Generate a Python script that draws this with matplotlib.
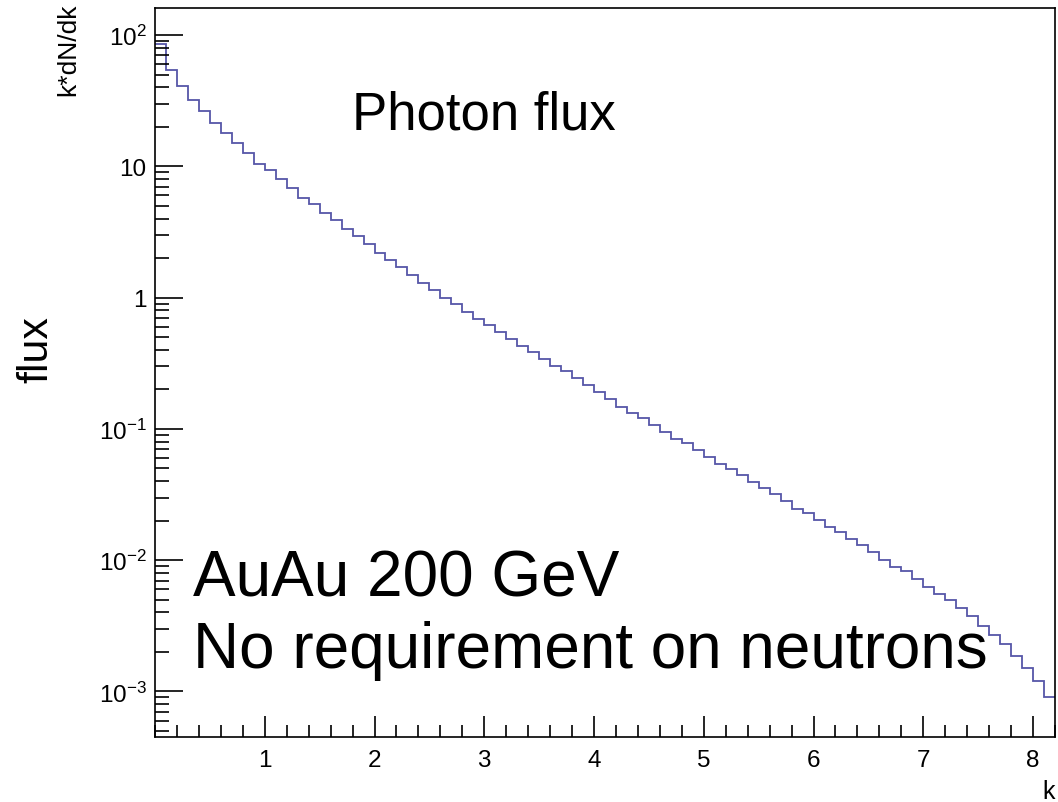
import matplotlib

matplotlib.use("Agg")

import matplotlib.pyplot as plt
import numpy as np
from matplotlib.ticker import FixedLocator, FuncFormatter, LogLocator, MultipleLocator

plt.rcParams["font.family"] = ["Liberation Sans", "DejaVu Sans"]
plt.rcParams["mathtext.fontset"] = "custom"
plt.rcParams["mathtext.rm"] = "Liberation Sans"
plt.rcParams["mathtext.it"] = "Liberation Sans:italic"

# Histogram: 82 bins of width 0.1 in k, photon flux k*dN/dk
BIN_EDGES = np.linspace(0.0, 8.2, 83)
FLUX = [
    85.4, 54.1, 40.6, 31.96, 26.35, 21.2, 18.0, 15.0, 12.54, 10.39,
    9.40, 7.99, 6.78, 5.72, 5.12, 4.38, 3.89, 3.32, 2.92, 2.55,
    2.18, 1.93, 1.71, 1.49, 1.30, 1.14, 1.00, 0.890, 0.778, 0.693,
    0.619, 0.548, 0.488, 0.428, 0.382, 0.339, 0.302, 0.276, 0.242, 0.215,
    0.191, 0.168, 0.148, 0.1315, 0.1204, 0.1065, 0.0947, 0.0843, 0.0777, 0.0687,
    0.0607, 0.0542, 0.0498, 0.0443, 0.0394, 0.0357, 0.0317, 0.0282, 0.0247, 0.0227,
    0.0202, 0.0180, 0.0164, 0.0146, 0.0131, 0.0115, 0.0101, 0.00892, 0.00826, 0.00723,
    0.00628, 0.00555, 0.00494, 0.00435, 0.00373, 0.00315, 0.00267, 0.00228, 0.00186, 0.00152,
    0.00120, 0.000911,
]

X_TICKS = [1, 2, 3, 4, 5, 6, 7, 8]
Y_LIMITS = (4.5e-4, 162)
X_LIMITS = (0.0, 8.2)

LINE_COLOR = "#5656a8"


def _ylabel(v, _pos):
    exp = int(round(np.log10(v)))
    if exp == 0:
        return "1"
    if exp == 1:
        return "10"
    return r"$\mathregular{10^{%d}}$" % exp


W, H = 1058, 803
fig = plt.figure(figsize=(W / 100, H / 100), dpi=100)
ax = fig.add_axes([155 / W, 1 - 738 / H, 900 / W, (738 - 8.5) / H])

ax.stairs(FLUX, BIN_EDGES, baseline=None, color=LINE_COLOR, linewidth=1.3)

ax.set_yscale("log")
ax.set_xlim(*X_LIMITS)
ax.set_ylim(*Y_LIMITS)

ax.xaxis.set_major_locator(FixedLocator(X_TICKS))
ax.xaxis.set_minor_locator(MultipleLocator(0.2))
ax.yaxis.set_major_locator(LogLocator(base=10, numticks=20))
ax.yaxis.set_minor_locator(LogLocator(base=10, subs=np.arange(2, 10), numticks=20))
ax.yaxis.set_major_formatter(FuncFormatter(_ylabel))
ax.yaxis.set_minor_formatter(FuncFormatter(lambda v, p: ""))

ax.tick_params(axis="both", which="both", direction="in", top=False, right=False,
               width=1.2, colors="black", labelsize=17.5)
ax.tick_params(axis="y", which="major", length=20, pad=6)
ax.tick_params(axis="y", which="minor", length=10)
ax.tick_params(axis="x", which="major", length=15, pad=9)
ax.tick_params(axis="x", which="minor", length=8.5)

for sp in ax.spines.values():
    sp.set_linewidth(1.2)
    sp.set_color("black")

# axis titles (ROOT style: placed at the ends of the axes)
fig.text(68 / W, 1 - 4 / H, "k*dN/dk", rotation=90, ha="center", va="top", fontsize=19)
fig.text(1055 / W, 1 - 799 / H, "k", ha="right", va="baseline", fontsize=18)
fig.text(36 / W, 1 - 350 / H, "flux", rotation=90, ha="center", va="center", fontsize=31)

# annotations
fig.text(352 / W, 1 - 129 / H, "Photon flux", ha="left", va="baseline", fontsize=38)
fig.text(193 / W, 1 - 597 / H, "AuAu 200 GeV", ha="left", va="baseline", fontsize=46)
fig.text(193 / W, 1 - 668 / H, "No requirement on neutrons", ha="left", va="baseline", fontsize=46)

fig.savefig("out.png", dpi=100)
plt.close(fig)
